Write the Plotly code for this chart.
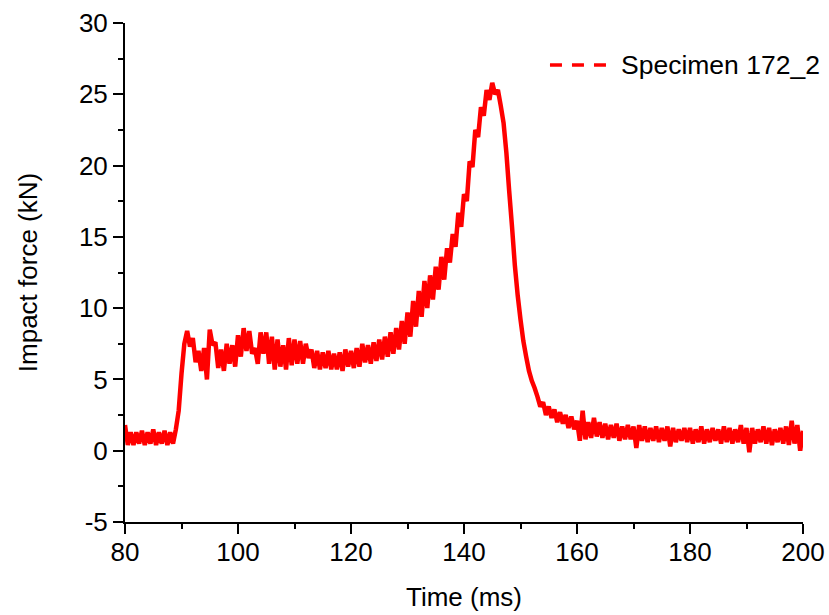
import numpy as np
import plotly.graph_objects as go

# Sampling grid (ms), 0.5 ms steps from 80 to 200
time_ms = np.arange(80.0, 200.0001, 0.5)

# Impact force (kN): pairs (value at t, value at t+0.5)
force_kN = [
    1.8, 0.4, 1.3, 0.4, 1.3, 0.5, 1.4, 0.4, 1.3, 0.5,   # 80-84.5
    1.5, 0.4, 1.3, 0.5, 1.4, 0.4, 1.3, 0.5, 1.5, 2.8,   # 85-89.5
    5.4, 7.5, 8.4, 7.3, 7.9, 6.2, 7.0, 5.6, 7.2, 5.0,   # 90-94.5
    8.5, 7.4, 7.6, 5.8, 7.1, 5.6, 7.5, 6.1, 7.4, 5.9,   # 95-99.5
    8.1, 6.6, 8.6, 7.0, 8.4, 6.8, 7.2, 6.1, 8.3, 6.8,   # 100-104.5
    8.3, 6.1, 8.0, 5.7, 7.8, 5.9, 7.4, 5.7, 7.9, 6.0,   # 105-109.5
    7.8, 6.1, 7.7, 6.1, 7.5, 6.5, 7.1, 5.8, 7.0, 5.7,   # 110-114.5
    6.9, 5.8, 7.0, 5.7, 6.8, 5.7, 6.9, 5.6, 7.1, 5.9,   # 115-119.5
    7.0, 5.8, 7.2, 5.9, 7.5, 6.2, 7.4, 6.1, 7.6, 6.3,   # 120-124.5
    7.8, 6.4, 8.0, 6.6, 8.3, 6.8, 8.6, 7.1, 9.1, 7.5,   # 125-129.5
    9.7, 8.0, 10.5, 8.7, 11.2, 9.4, 11.9, 10.0, 12.3, 10.6,   # 130-134.5
    12.9, 11.3, 13.6, 12.0, 14.2, 13.2, 15.2, 14.3, 16.7, 15.7,   # 135-139.5
    18.0, 17.5, 20.3, 19.9, 22.5, 22.0, 24.1, 23.5, 25.3, 24.6,   # 140-144.5
    25.8, 25.0, 25.3, 24.2, 23.0, 20.9, 18.2, 15.7, 13.0, 10.9,   # 145-149.5
    9.2, 7.7, 6.6, 5.6, 4.9, 4.4, 3.8, 3.1, 3.4, 2.5,   # 150-154.5
    3.1, 2.3, 2.9, 2.0, 2.7, 1.9, 2.5, 1.6, 2.4, 1.5,   # 155-159.5
    2.1, 0.7, 2.8, 0.8, 2.0, 0.9, 2.3, 1.0, 2.0, 0.9,   # 160-164.5
    1.9, 0.8, 1.8, 0.9, 1.9, 0.7, 1.7, 0.8, 1.8, 0.8,   # 165-169.5
    1.7, 0.2, 1.8, 0.7, 1.7, 0.6, 1.6, 0.7, 1.7, 0.6,   # 170-174.5
    1.6, 0.7, 1.7, 0.3, 1.6, 0.6, 1.5, 0.7, 1.6, 0.6,   # 175-179.5
    1.6, 0.5, 1.5, 0.6, 1.7, 0.5, 1.5, 0.6, 1.6, 0.7,   # 180-184.5
    1.5, 0.5, 1.7, 0.6, 1.6, 0.5, 1.5, 0.6, 1.8, 0.5,   # 185-189.5
    1.6, -0.1, 1.6, 0.5, 1.5, 0.6, 1.7, 0.5, 1.6, 0.4,  # 190-194.5
    1.5, 0.6, 1.6, 0.5, 1.7, 0.4, 2.1, 0.5, 1.8, 0.0,   # 195-199.5
    1.4,                                                # 200
]

series_name = "Specimen 172_2"
x_ticks = [80, 100, 120, 140, 160, 180, 200]
x_ticktext = ["80", "100", "120", "140", "160", "180", "200"]
y_ticks = [-5, 0, 5, 10, 15, 20, 25, 30]
y_ticktext = ["-5", "0", "5", "10", "15", "20", "25", "30"]

RED = "#FF0000"
FONT = "Arial, 'Liberation Sans', sans-serif"

fig = go.Figure()
fig.add_trace(go.Scatter(
    x=time_ms, y=force_kN, mode="lines", name=series_name,
    line=dict(color=RED, width=4.5, simplify=False), showlegend=False,
))

axis_common = dict(
    showline=True, linecolor="black", linewidth=2, mirror=False,
    ticks="outside", ticklen=10, tickwidth=2, tickcolor="black",
    showgrid=False, zeroline=False, automargin=False,
    tickfont=dict(family=FONT, size=26, color="black"),
)

fig.update_xaxes(
    range=[80, 200], tickmode="array", tickvals=x_ticks, ticktext=x_ticktext,
    minor=dict(ticks="outside", ticklen=5, tickwidth=2, tickcolor="black", dtick=10, tick0=80),
    ticklabelstandoff=-4,
    title=dict(text="Time (ms)", font=dict(family=FONT, size=26, color="black"), standoff=22),
    **axis_common,
)
fig.update_yaxes(
    range=[-5, 30], tickmode="array", tickvals=y_ticks, ticktext=y_ticktext,
    minor=dict(ticks="outside", ticklen=5, tickwidth=2, tickcolor="black", dtick=2.5, tick0=0),
    title=dict(text="Impact force (kN)", font=dict(family=FONT, size=26, color="black"), standoff=34),
    **axis_common,
)

# Legend drawn by hand (dashed sample + label)
fig.add_shape(type="line", xref="paper", yref="paper",
              x0=0.6268, x1=0.7109, y0=0.9158, y1=0.9158,
              line=dict(color=RED, width=3.5, dash="12px,10px"))
fig.add_annotation(xref="paper", yref="paper", x=0.7286, y=0.9158,
                   text=series_name, showarrow=False, xanchor="left", yanchor="middle",
                   font=dict(family=FONT, size=26.5, color="black"))

fig.update_layout(
    width=829, height=615,
    margin=dict(l=125, r=26, t=23, b=93, autoexpand=False),
    paper_bgcolor="white", plot_bgcolor="white",
    showlegend=False,
)

# Remove the default page margin so the figure fills the window exactly
fig.write_html(
    "out.html",
    config={"displayModeBar": False},
    post_script="document.body.style.margin='0';document.body.style.overflow='hidden';",
)
